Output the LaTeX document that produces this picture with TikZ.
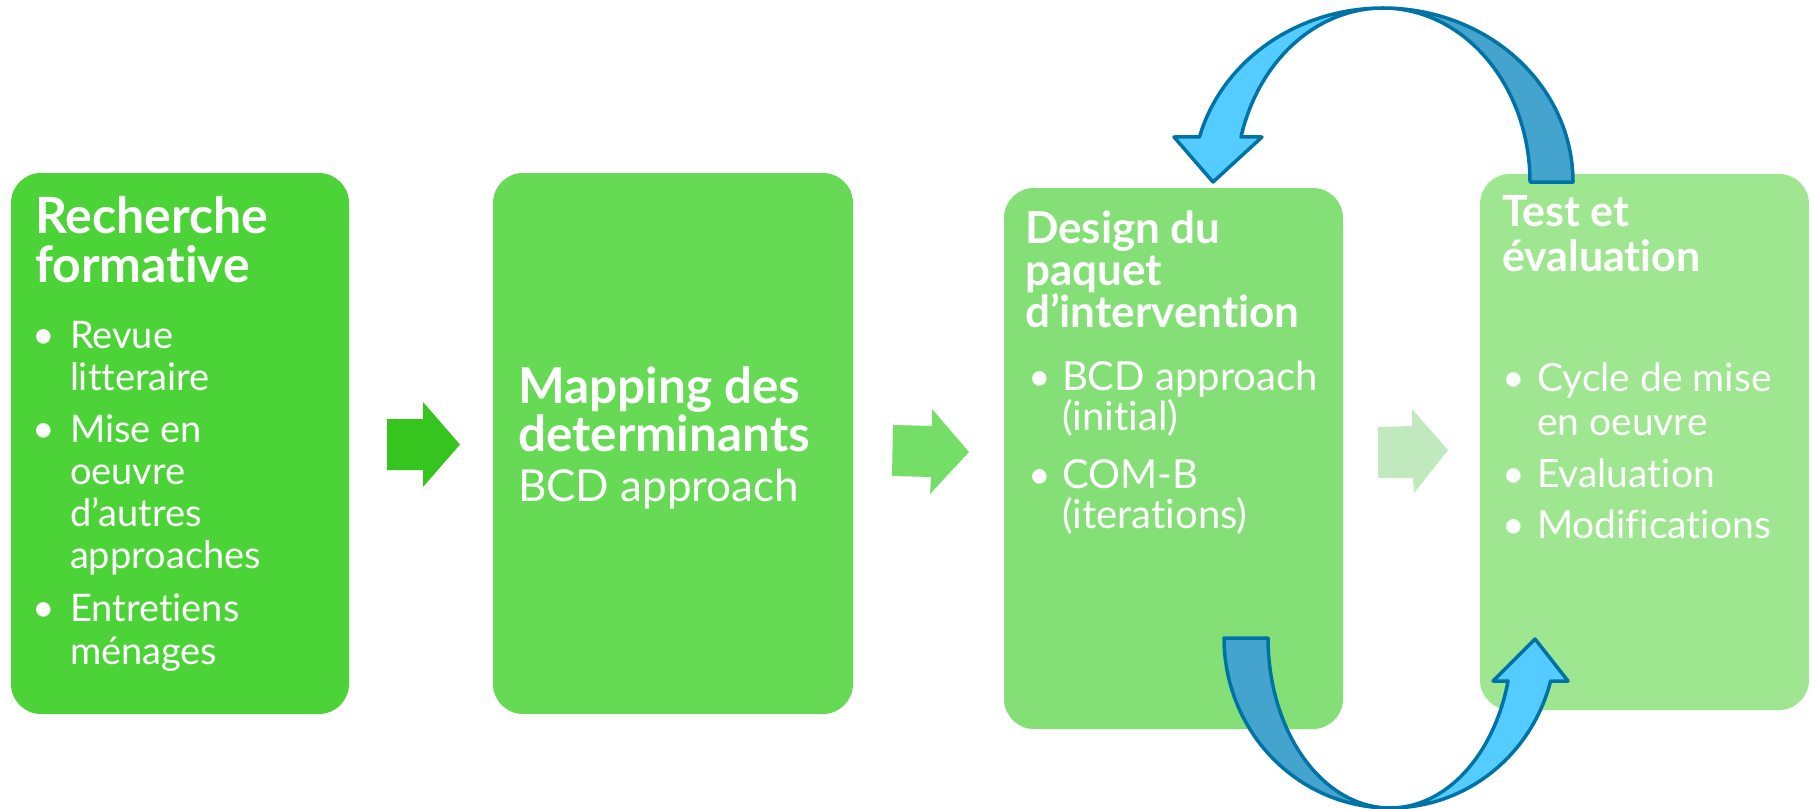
\documentclass[tikz,border=0pt]{standalone}
\usepackage{fontspec}
\setmainfont{Lato}[Ligatures={NoCommon}]
\definecolor{cbox1}{RGB}{76,211,55}
\definecolor{cbox2}{RGB}{102,218,85}
\definecolor{cbox3}{RGB}{132,224,118}
\definecolor{cbox4}{RGB}{158,230,144}
\definecolor{carr1}{RGB}{54,196,31}
\definecolor{carr2}{RGB}{116,222,103}
\definecolor{carr3}{RGB}{192,234,190}
\definecolor{adark}{RGB}{68,164,206}
\definecolor{alight}{RGB}{85,204,255}
\definecolor{aline}{RGB}{0,115,166}
\begin{document}
\begin{tikzpicture}[x=1pt,y=-1pt,
  box/.style={rectangle, rounded corners=30pt, draw=none, inner sep=0pt, outer sep=0pt},
  tx/.style={text=white, anchor=base west, inner sep=0pt, outer sep=0pt},
  hA/.style={tx, font=\fontsize{50}{50}\selectfont\bfseries},
  bA/.style={tx, font=\fontsize{38}{38}\selectfont},
  hB/.style={tx, font=\fontsize{49.5}{49.5}\selectfont\bfseries},
  bB/.style={tx, font=\fontsize{44}{44}\selectfont},
  hC/.style={tx, font=\fontsize{44}{44}\selectfont\bfseries},
  bC/.style={tx, font=\fontsize{40}{40}\selectfont},
  hD/.style={tx, font=\fontsize{43}{43}\selectfont\bfseries},
  bD/.style={tx, font=\fontsize{39}{39}\selectfont},
  dot/.style={tx, font=\fontsize{39}{39}\selectfont},
  curvedarrow/.style={draw=aline, line width=3.5pt, line join=round},
]
\useasboundingbox (0,0) rectangle (1811,808);

% boxes
\node[box, fill=cbox1, minimum width=338pt, minimum height=541pt] (b1) at (180,443.5) {};
\node[box, fill=cbox2, minimum width=360pt, minimum height=541pt] (b2) at (673,443.5) {};
\node[box, fill=cbox3, minimum width=339pt, minimum height=541pt] (b3) at (1173.5,458.5) {};
\node[box, fill=cbox4, minimum width=329pt, minimum height=536pt] (b4) at (1644.5,442) {};

% block arrows
\fill[carr1] (387,419) -- (423,419) -- (423,402) -- (460,444.5) -- (423,487) -- (423,470) -- (387,470) -- cycle;
\fill[carr2] (893,425) -- (932,426) -- (932,409) -- (969,452) -- (930,494) -- (931,477) -- (892,476) -- cycle;
\fill[carr3] (1378,427) -- (1412,426) -- (1412,409) -- (1448,450) -- (1414,493) -- (1413,478) -- (1378,478) -- cycle;

% box 1 text
\node[hA] (t1a) at (35,233.5) {Recherche};
\node[hA] (t1b) at (35,282.5) {formative};
\node[dot] (u1a) at (32,348) {•};
\node[bA] (t1c) at (70,348) {Revue};
\node[bA] (t1d) at (70,390) {litteraire};
\node[dot] (u1b) at (32,442) {•};
\node[bA] (t1e) at (70,442) {Mise en};
\node[bA] (t1f) at (70,484) {oeuvre};
\node[bA] (t1g) at (70,526) {d’autres};
\node[bA] (t1h) at (70,568) {approaches};
\node[dot] (u1c) at (32,621) {•};
\node[bA] (t1i) at (70,621) {Entretiens};
\node[bA] (t1j) at (70,664) {ménages};

% box 2 text
\node[hB] (t2a) at (518,403) {Mapping des};
\node[hB] (t2b) at (518,451) {determinants};
\node[bB] (t2c) at (518,501) {BCD approach};

% box 3 text
\node[hC] (t3a) at (1025,243) {Design du};
\node[hC] (t3b) at (1025,285) {paquet};
\node[hC] (t3c) at (1025,327) {d’intervention};
\node[dot] (u3a) at (1028,390) {•};
\node[bC] (t3d) at (1062,390) {BCD approach};
\node[bC] (t3e) at (1062,430) {(initial)};
\node[dot] (u3b) at (1028,488) {•};
\node[bC] (t3f) at (1062,488) {COM-B};
\node[bC] (t3g) at (1062,528) {(iterations)};

% box 4 text
\node[hD] (t4a) at (1502,226.5) {Test et};
\node[hD] (t4b) at (1502,271) {évaluation};
\node[dot] (u4a) at (1502,391) {•};
\node[bD] (t4c) at (1537,391) {Cycle de mise};
\node[bD] (t4d) at (1537,435) {en oeuvre};
\node[dot] (u4b) at (1502,487) {•};
\node[bD] (t4e) at (1537,487) {Evaluation};
\node[dot] (u4c) at (1502,538) {•};
\node[bD] (t4f) at (1537,538) {Modifications};

% top curved arrow (from Test et evaluation back to Design)
\filldraw[curvedarrow, fill=adark]
  plot[domain=0:90, samples=60] ({1383+190*cos(\x)},{182-174*sin(\x)})
  -- plot[domain=90:0, samples=60] ({1383+147*cos(\x)},{182-174*sin(\x)}) -- cycle;
\filldraw[curvedarrow, fill=alight]
  plot[domain=90:165, samples=60] ({1383+190*cos(\x)},{182-174*sin(\x)})
  -- (1174,137) -- (1213,182) -- (1262,137)
  -- plot[domain=165:90, samples=60] ({1383+147*cos(\x)},{182-174*sin(\x)}) -- cycle;

% bottom curved arrow (from Design to Test et evaluation)
\filldraw[curvedarrow, fill=adark]
  plot[domain=180:270, samples=60] ({1390+166*cos(\x)},{638-170*sin(\x)})
  -- plot[domain=270:180, samples=60] ({1390+122*cos(\x)},{638-170*sin(\x)}) -- cycle;
\filldraw[curvedarrow, fill=alight]
  plot[domain=270:345.35, samples=60] ({1390+166*cos(\x)},{638-170*sin(\x)})
  -- (1568,681) -- (1535,639) -- (1493,681)
  -- plot[domain=345.35:270, samples=60] ({1390+122*cos(\x)},{638-170*sin(\x)}) -- cycle;
\end{tikzpicture}
\end{document}
